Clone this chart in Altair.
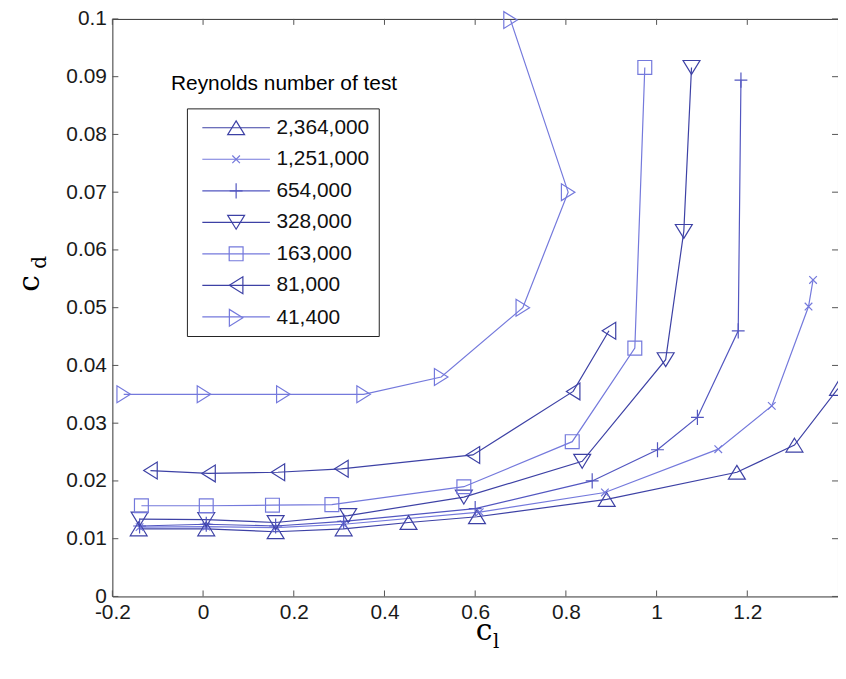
import altair as alt
import pandas as pd

# ---------------- data ----------------
names = ["2,364,000", "1,251,000", "654,000", "328,000", "163,000", "81,000", "41,400"]

cl_2364 = [-0.142, 0.007, 0.160, 0.310, 0.453, 0.604, 0.890, 1.177, 1.304, 1.400]
cd_2364 = [0.0117, 0.0117, 0.0112, 0.0117, 0.0128, 0.0138, 0.0168, 0.0215, 0.0262, 0.0360]

cl_1251 = [-0.140, 0.007, 0.160, 0.310, 0.610, 0.886, 1.136, 1.254, 1.335, 1.345]
cd_1251 = [0.0120, 0.0121, 0.0119, 0.0125, 0.0146, 0.0180, 0.0255, 0.0330, 0.0502, 0.0548]

cl_654 = [-0.140, 0.007, 0.160, 0.310, 0.600, 0.858, 1.002, 1.090, 1.180, 1.186]
cd_654 = [0.0122, 0.0125, 0.0122, 0.0130, 0.0152, 0.0200, 0.0254, 0.0310, 0.0460, 0.0894]

cl_328 = [-0.140, 0.007, 0.160, 0.320, 0.575, 0.836, 1.020, 1.060, 1.077]
cd_328 = [0.0134, 0.0133, 0.0128, 0.0140, 0.0172, 0.0234, 0.0410, 0.0632, 0.0916]

cl_163 = [-0.136, 0.007, 0.153, 0.284, 0.575, 0.814, 0.952, 0.974]
cd_163 = [0.0157, 0.0157, 0.0158, 0.0159, 0.0190, 0.0268, 0.0430, 0.0916]

cl_81 = [-0.116, 0.012, 0.165, 0.305, 0.595, 0.816, 0.895]
cd_81 = [0.0218, 0.0213, 0.0215, 0.0221, 0.0245, 0.0355, 0.0460]

cl_41 = [-0.175, 0.002, 0.177, 0.354, 0.525, 0.705, 0.805, 0.678]
cd_41 = [0.0350, 0.0350, 0.0350, 0.0350, 0.0380, 0.0500, 0.0700, 0.0998]

x_ticks = [-0.2, 0, 0.2, 0.4, 0.6, 0.8, 1, 1.2]
y_ticks = [0, 0.01, 0.02, 0.03, 0.04, 0.05, 0.06, 0.07, 0.08, 0.09, 0.1]

legend_title = "Reynolds number of test"

# ---------------- styles ----------------
dark, light, mid = "#3d41a5", "#7479dc", "#5256c0"
colors = [dark, light, mid, dark, light, dark, light]

# marker paths (unit box scaled by sqrt(size)/2)
marker_paths = [
    "M0,-0.82L1,0.82L-1,0.82Z",                                  # triangle up
    "M-0.45,-0.45L0.45,0.45M-0.45,0.45L0.45,-0.45",              # small x
    "M-0.76,0L0.76,0M0,-0.9L0,0.9",                              # plus
    "M0,0.82L1,-0.82L-1,-0.82Z",                                 # triangle down
    "M-0.82,-0.82L0.82,-0.82L0.82,0.82L-0.82,0.82Z",             # square
    "M-0.8,0L0.8,-1L0.8,1Z",                                     # triangle left
    "M0.8,0L-0.8,-1L-0.8,1Z",                                    # triangle right
]

W, H = 730, 581
MSIZE = 289
TICK = 6

series = [
    (cl_2364, cd_2364), (cl_1251, cd_1251), (cl_654, cd_654), (cl_328, cd_328),
    (cl_163, cd_163), (cl_81, cd_81), (cl_41, cd_41),
]
rows = []
for name, (cl, cd) in zip(names, series):
    for i, (a, b) in enumerate(zip(cl, cd)):
        rows.append({"Re": name, "cl": a, "cd": b, "i": i})
df = pd.DataFrame(rows)

xscale = alt.Scale(domain=[-0.2, 1.4], nice=False, zero=False)
yscale = alt.Scale(domain=[0, 0.1], nice=False, zero=False)

lab = dict(labelFont="Liberation Sans", labelFontSize=21, labelColor="#1a1a1a")

x_main = alt.Axis(orient="bottom", values=x_ticks, labelExpr="'' + datum.value",
                  ticks=False, tickSize=0, domain=False, grid=False, title=None,
                  labelPadding=5, labelFlush=False, labelOverlap=False, **lab)
y_main = alt.Axis(orient="left", values=y_ticks, labelExpr="'' + datum.value",
                  ticks=False, tickSize=0, domain=False, grid=False, title=None,
                  labelPadding=6, labelOverlap=False, **lab)


def X(field):
    return alt.X(field, scale=xscale, axis=x_main)


def Y(field):
    return alt.Y(field, scale=yscale, axis=y_main)


common_leg = dict(orient="none", legendX=75, legendY=90, title=None,
                  symbolSize=MSIZE, symbolStrokeWidth=1.2, symbolOffset=30,
                  labelOffset=30, labelFont="Liberation Sans", labelFontSize=21,
                  labelColor="#111", padding=9, rowPadding=9.7, values=names)

# legend of the lines (short line segments), box drawn here
leg_line = alt.Legend(symbolType="M-4,0L4,0", labelOpacity=0,
                      strokeColor="#222", **common_leg)
# legend of the markers, drawn over the same place
leg_mark = alt.Legend(**common_leg)

lines = alt.Chart(df).mark_line(strokeWidth=1.2).encode(
    x=X("cl:Q"),
    y=Y("cd:Q"),
    color=alt.Color("Re:N", scale=alt.Scale(domain=names[::-1], range=colors[::-1]),
                    legend=leg_line),
    order="i:Q",
)

points = alt.Chart(df).mark_point(filled=False, size=MSIZE, strokeWidth=1.2, opacity=1).encode(
    x=X("cl:Q"),
    y=Y("cd:Q"),
    stroke=alt.Stroke("Re:N", scale=alt.Scale(domain=names, range=colors), legend=leg_mark),
    shape=alt.Shape("Re:N", scale=alt.Scale(domain=names, range=marker_paths), legend=leg_mark),
)

# inward tick marks on all four sides (MATLAB style box)
xt_df = pd.DataFrame({"v": x_ticks})
yt_df = pd.DataFrame({"v": y_ticks})


def xtick(y0, y1):
    return alt.Chart(xt_df).mark_rule(color="#555", strokeWidth=1).encode(
        x=X("v:Q"), y=alt.value(y0), y2=alt.value(y1))


def ytick(x0, x1):
    return alt.Chart(yt_df).mark_rule(color="#555", strokeWidth=1).encode(
        y=Y("v:Q"), x=alt.value(x0), x2=alt.value(x1))


ticks = [xtick(H, H - TICK), xtick(0, TICK), ytick(0, TICK), ytick(W, W - TICK)]


def txt(t, x, y, size, font="DejaVu Serif", angle=0, align="center"):
    return alt.Chart(pd.DataFrame({"t": [t]})).mark_text(
        font=font, fontSize=size, angle=angle, align=align,
        baseline="alphabetic", color="black"
    ).encode(x=alt.value(x), y=alt.value(y), text="t:N")


texts = [
    txt(legend_title, 59, 72, 21, font="Liberation Sans", align="left"),
    txt("c", 374, 625, 30),
    txt("l", 386, 633, 20),
    txt("c", -74, 266, 30, angle=270),
    txt("d", -67, 245, 20, angle=270),
]

chart = (
    alt.layer(lines, *ticks, points, *texts)
    .properties(
        width=W, height=H,
        autosize=alt.AutoSizeParams(type="none"),
        padding={"left": 105, "top": 9, "right": 0, "bottom": 70},
        background="white",
    )
    .configure_view(stroke="#333", strokeWidth=1)
)

chart.save("out.html", embed_options={"renderer": "svg", "actions": False})
